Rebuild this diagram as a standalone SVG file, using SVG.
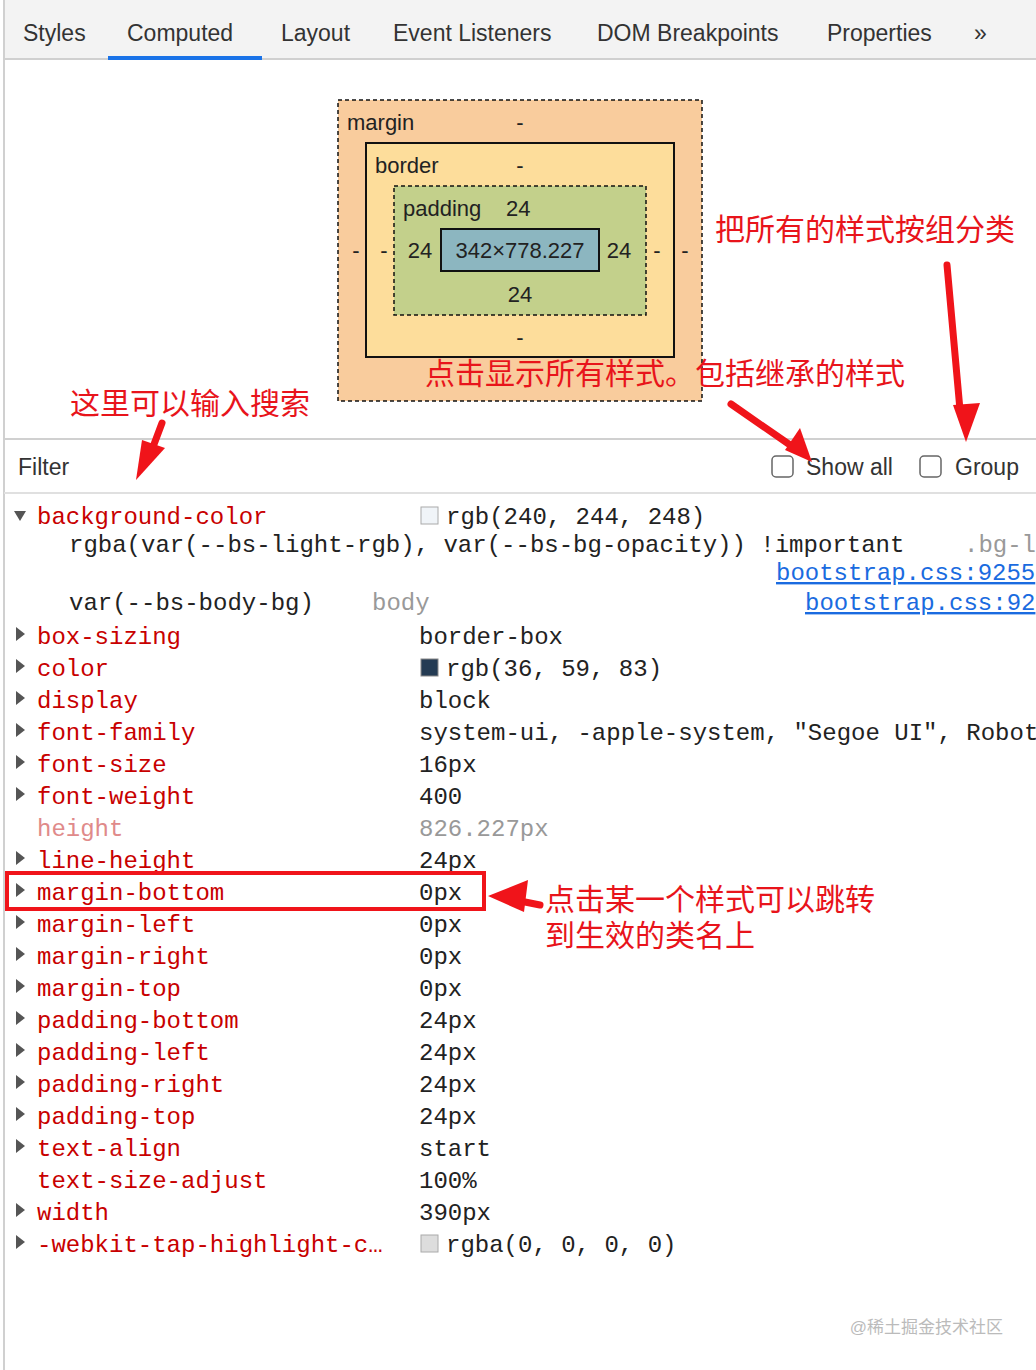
<svg xmlns="http://www.w3.org/2000/svg" width="1036" height="1370" viewBox="0 0 1036 1370">
<defs>
<style>
.tab{font-family:"Liberation Sans",Arial,sans-serif;font-size:23px;fill:#333}
.bx{font-family:"Liberation Sans",Arial,sans-serif;font-size:22px;fill:#222}
.cn{font-family:"Liberation Sans","Noto Sans CJK SC",sans-serif;font-size:30px;fill:#e8141b}
.m{font-family:"Liberation Mono","DejaVu Sans Mono",monospace;font-size:24px}
.k{fill:#c80000}
.v{fill:#222}
.g{fill:#999}
.gk{fill:#e08a8a}
.lnk{fill:#1a6be0;text-decoration:underline}
.tri{fill:#555}
.arr{stroke:#f0141a;stroke-width:7;fill:none;stroke-linecap:round}
.ah{fill:#f0141a}
</style>
</defs>
<rect width="1036" height="1370" fill="#fff"/>
<g id="tabs">
<rect x="4" y="0" width="1032" height="60" fill="#f3f3f3"/>
<line x1="4" y1="59" x2="1036" y2="59" stroke="#d0d0d0" stroke-width="2"/>
<rect x="108" y="56" width="154" height="4" fill="#1a73e8"/>
<text class="tab" x="23" y="41">Styles</text>
<text class="tab" x="127" y="41" fill="#222">Computed</text>
<text class="tab" x="281" y="41">Layout</text>
<text class="tab" x="393" y="41">Event Listeners</text>
<text class="tab" x="597" y="41">DOM Breakpoints</text>
<text class="tab" x="827" y="41">Properties</text>
<text class="tab" x="974" y="41">»</text>
</g>
<line x1="4" y1="0" x2="4" y2="1370" stroke="#d0d0d0" stroke-width="2"/>
<g id="boxmodel">
<rect x="338" y="100" width="364" height="301" fill="#f9cc9d" stroke="#111" stroke-width="1.5" stroke-dasharray="4,3"/>
<rect x="366" y="143" width="308" height="214" fill="#fddd9b" stroke="#111" stroke-width="2"/>
<rect x="394" y="186" width="252" height="129" fill="#c3d08b" stroke="#111" stroke-width="1.5" stroke-dasharray="4,3"/>
<rect x="441" y="229" width="158" height="42" fill="#8cb6c0" stroke="#111" stroke-width="2"/>
<text class="bx" x="347" y="130">margin</text><text class="bx" x="520" y="130" text-anchor="middle">-</text>
<text class="bx" x="375" y="173">border</text><text class="bx" x="520" y="173" text-anchor="middle">-</text>
<text class="bx" x="403" y="216">padding</text><text class="bx" x="506" y="216">24</text>
<text class="bx" x="520" y="258" text-anchor="middle">342×778.227</text>
<text class="bx" x="420" y="258" text-anchor="middle">24</text>
<text class="bx" x="619" y="258" text-anchor="middle">24</text>
<text class="bx" x="520" y="302" text-anchor="middle">24</text>
<text class="bx" x="520" y="345" text-anchor="middle">-</text>
<text class="bx" x="356" y="258" text-anchor="middle">-</text>
<text class="bx" x="384" y="258" text-anchor="middle">-</text>
<text class="bx" x="657" y="258" text-anchor="middle">-</text>
<text class="bx" x="685" y="258" text-anchor="middle">-</text>
</g>
<g id="filterbar">
<line x1="4" y1="439" x2="1036" y2="439" stroke="#d0d0d0" stroke-width="2"/>
<line x1="4" y1="493" x2="1036" y2="493" stroke="#e0e0e0" stroke-width="2"/>
<text class="tab" x="18" y="475" fill="#888">Filter</text>
<rect x="772" y="456" width="21" height="21" rx="4" fill="#fff" stroke="#666" stroke-width="1.5"/>
<text class="tab" x="806" y="475">Show all</text>
<rect x="920" y="456" width="21" height="21" rx="4" fill="#fff" stroke="#666" stroke-width="1.5"/>
<text class="tab" x="955" y="475">Group</text>
</g>
<g id="props" class="m">
<path class="tri" d="M14 511 L26 511 L20 521 Z"/>
<text class="k" x="37" y="524">background-color</text>
<rect x="421" y="507" width="17" height="17" fill="#f0f4f8" stroke="#aaa"/>
<text class="v" x="446" y="524">rgb(240, 244, 248)</text>
<text class="v" x="69" y="552">rgba(var(--bs-light-rgb), var(--bs-bg-opacity)) !important</text>
<text class="g" x="964" y="552">.bg-l</text>
<text class="lnk" x="776" y="580">bootstrap.css:9255</text>
<text class="v" x="69" y="610">var(--bs-body-bg)</text>
<text class="g" x="372" y="610">body</text>
<text class="lnk" x="805" y="610">bootstrap.css:92</text>
<g class="tri">
<path d="M16 627 L16 641 L25 634 Z"/><path d="M16 659 L16 673 L25 666 Z"/><path d="M16 691 L16 705 L25 698 Z"/>
<path d="M16 723 L16 737 L25 730 Z"/><path d="M16 755 L16 769 L25 762 Z"/><path d="M16 787 L16 801 L25 794 Z"/>
<path d="M16 851 L16 865 L25 858 Z"/><path d="M16 883 L16 897 L25 890 Z"/><path d="M16 915 L16 929 L25 922 Z"/>
<path d="M16 947 L16 961 L25 954 Z"/><path d="M16 979 L16 993 L25 986 Z"/><path d="M16 1011 L16 1025 L25 1018 Z"/>
<path d="M16 1043 L16 1057 L25 1050 Z"/><path d="M16 1075 L16 1089 L25 1082 Z"/><path d="M16 1107 L16 1121 L25 1114 Z"/>
<path d="M16 1139 L16 1153 L25 1146 Z"/><path d="M16 1203 L16 1217 L25 1210 Z"/><path d="M16 1235 L16 1249 L25 1242 Z"/>
</g>
<text class="k" x="37" y="644">box-sizing</text><text class="v" x="419" y="644">border-box</text>
<text class="k" x="37" y="676">color</text><rect x="421" y="659" width="17" height="17" fill="#243b53" stroke="#888"/><text class="v" x="446" y="676">rgb(36, 59, 83)</text>
<text class="k" x="37" y="708">display</text><text class="v" x="419" y="708">block</text>
<text class="k" x="37" y="740">font-family</text><text class="v" x="419" y="740">system-ui, -apple-system, "Segoe UI", Robot</text>
<text class="k" x="37" y="772">font-size</text><text class="v" x="419" y="772">16px</text>
<text class="k" x="37" y="804">font-weight</text><text class="v" x="419" y="804">400</text>
<text class="gk" x="37" y="836">height</text><text class="g" x="419" y="836">826.227px</text>
<text class="k" x="37" y="868">line-height</text><text class="v" x="419" y="868">24px</text>
<text class="k" x="37" y="900">margin-bottom</text><text class="v" x="419" y="900">0px</text>
<text class="k" x="37" y="932">margin-left</text><text class="v" x="419" y="932">0px</text>
<text class="k" x="37" y="964">margin-right</text><text class="v" x="419" y="964">0px</text>
<text class="k" x="37" y="996">margin-top</text><text class="v" x="419" y="996">0px</text>
<text class="k" x="37" y="1028">padding-bottom</text><text class="v" x="419" y="1028">24px</text>
<text class="k" x="37" y="1060">padding-left</text><text class="v" x="419" y="1060">24px</text>
<text class="k" x="37" y="1092">padding-right</text><text class="v" x="419" y="1092">24px</text>
<text class="k" x="37" y="1124">padding-top</text><text class="v" x="419" y="1124">24px</text>
<text class="k" x="37" y="1156">text-align</text><text class="v" x="419" y="1156">start</text>
<text class="k" x="37" y="1188">text-size-adjust</text><text class="v" x="419" y="1188">100%</text>
<text class="k" x="37" y="1220">width</text><text class="v" x="419" y="1220">390px</text>
<text class="k" x="37" y="1252">-webkit-tap-highlight-c…</text>
<rect x="421" y="1235" width="17" height="17" fill="#ddd" stroke="#aaa"/><text class="v" x="446" y="1252">rgba(0, 0, 0, 0)</text>
</g>
<g id="annotations">
<rect x="7" y="873" width="477" height="36" fill="none" stroke="#f0141a" stroke-width="4"/>
<text class="cn" x="715" y="240">把所有的样式按组分类</text>
<text class="cn" x="425" y="384">点击显示所有样式。包括继承的样式</text>
<text class="cn" x="70" y="414">这里可以输入搜索</text>
<text class="cn" x="545" y="910">点击某一个样式可以跳转</text>
<text class="cn" x="545" y="946">到生效的类名上</text>
</g>
<g id="connectors">
<path class="arr" d="M162 423 L150 455"/><path class="ah" d="M136 480 L165 448 L142 440 Z"/>
<path class="arr" d="M731 404 L793 447"/><path class="ah" d="M812 462 L800 428 L785 450 Z"/>
<path class="arr" d="M947 265 L960 410"/><path class="ah" d="M966 442 L980 403 L953 405 Z"/>
<path class="arr" d="M540 905 L515 900"/><path class="ah" d="M488 896 L528 880 L524 912 Z"/>
</g>
<text x="1003" y="1333" text-anchor="end" font-family="Liberation Sans,Noto Sans CJK SC,sans-serif" font-size="17" fill="#bbb">@稀土掘金技术社区</text>
</svg>
